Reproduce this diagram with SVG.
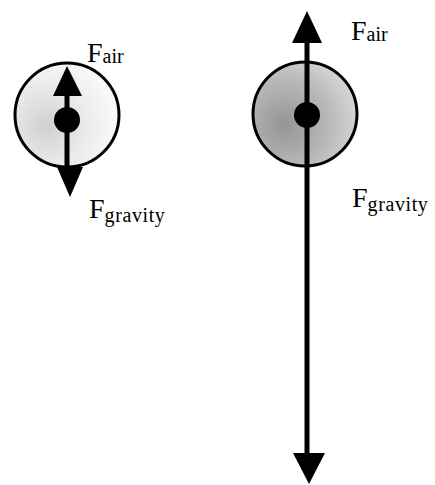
<svg xmlns="http://www.w3.org/2000/svg" width="435" height="485" viewBox="0 0 435 485">
<defs>
<radialGradient id="gl" cx="0.3" cy="0.6" r="0.7">
<stop offset="0" stop-color="#d0d0d0"/>
<stop offset="0.55" stop-color="#ebebeb"/>
<stop offset="1" stop-color="#fafafa"/>
</radialGradient>
<radialGradient id="gr" cx="0.3" cy="0.6" r="0.75">
<stop offset="0" stop-color="#959595"/>
<stop offset="0.6" stop-color="#bababa"/>
<stop offset="1" stop-color="#dadada"/>
</radialGradient>
<style>
.ball{stroke:#000;stroke-width:3}
.dot{fill:#000}
.shaft{stroke:#000;stroke-width:5}
.head{fill:#000}
.F{font-family:"Liberation Serif",serif;font-size:28px;fill:#000}
.sub{font-size:20px}
</style>
</defs>
<g id="small-ball">
<circle class="ball" cx="67" cy="115" r="52" fill="url(#gl)"/>
<circle class="dot" cx="67" cy="120" r="13"/>
</g>
<g id="large-ball">
<circle class="ball" cx="305" cy="114" r="52" fill="url(#gr)"/>
<circle class="dot" cx="307" cy="115" r="13"/>
</g>
<g id="connectors">
<line class="shaft" x1="67" y1="92" x2="67" y2="170"/>
<polygon class="head" points="67,66 53,96 82,96"/>
<polygon class="head" points="57,167 83,167 70,197"/>
<line class="shaft" x1="307" y1="40" x2="307" y2="455"/>
<polygon class="head" points="307,11 292,43 322,43"/>
<polygon class="head" points="293,453 325,453 309,484"/>
</g>
<g id="labels">
<text class="F" x="87" y="62">F<tspan class="sub" dy="1">air</tspan></text>
<text class="F" x="89" y="218">F<tspan class="sub" dy="4" letter-spacing="0.6">gravity</tspan></text>
<text class="F" x="351" y="40">F<tspan class="sub" dy="1">air</tspan></text>
<text class="F" x="352" y="207">F<tspan class="sub" dy="4" letter-spacing="0.6">gravity</tspan></text>
</g>
</svg>
